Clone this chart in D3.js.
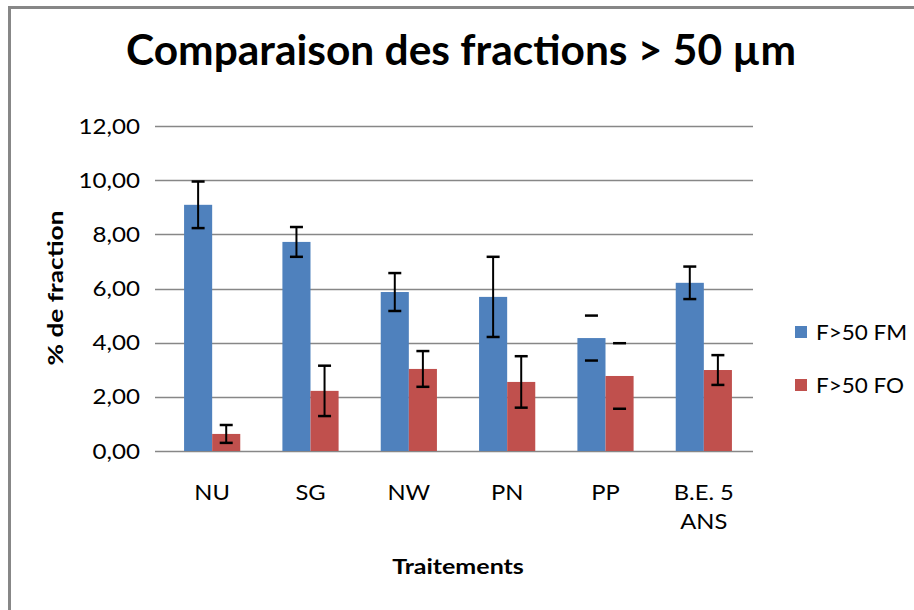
<!DOCTYPE html>
<html lang="fr">
<head>
<meta charset="utf-8">
<title>Comparaison des fractions</title>
<script src="https://cdn.jsdelivr.net/npm/d3@7"></script>
<style>
  body { margin: 0; background: #fff; }
  svg text { font-family: Lato, "Open Sans", sans-serif; fill: #000; }
</style>
</head>
<body>
<svg id="chart" width="914" height="610"></svg>
<script>
// donnees
var categories = ["NU", "SG", "NW", "PN", "PP", "B.E. 5 ANS"];
var seriesNames = ["F>50 FM", "F>50 FO"];
var valFM = [9.09, 7.72, 5.87, 5.69, 4.17, 6.21];
var valFO = [0.63, 2.22, 3.03, 2.55, 2.77, 2.99];
var errFM = [0.86, 0.55, 0.70, 1.48, 0.83, 0.60];
var errFO = [0.33, 0.93, 0.66, 0.95, 1.21, 0.55];
var yTicks = [0, 2, 4, 6, 8, 10, 12];
var capsOnly = ["PP"]; // pas de trait vertical sur ces barres d'erreur
var colors = ["#4F81BD", "#C0504D"];

var svg = d3.select("#chart");

// elargit le texte (la police d'origine est plus large)
function widen(sel, k) {
  sel.each(function() {
    var w = this.getComputedTextLength();
    d3.select(this).attr("textLength", w * k).attr("lengthAdjust", "spacingAndGlyphs");
  });
}

// cadre du graphique (coupe a droite et en bas)
svg.append("rect")
  .attr("x", 9.5).attr("y", 7.5)
  .attr("width", 1000).attr("height", 700)
  .attr("fill", "none")
  .attr("stroke", "#878787")
  .attr("stroke-width", 3);

var plotLeft = 163, plotRight = 753, plotTop = 126, plotBottom = 451;

var x0 = d3.scaleBand().domain(categories).range([plotLeft, plotRight]);
var bandW = x0.bandwidth();
var barW = bandW / 3.5; // gap width 150%
var y = d3.scaleLinear().domain([0, 12]).range([plotBottom, plotTop]);

// quadrillage
svg.append("g").selectAll("line")
  .data(yTicks)
  .join("line")
  .attr("x1", plotLeft - 8).attr("x2", plotRight)
  .attr("y1", function(d) { return Math.round(y(d)) + 0.5; })
  .attr("y2", function(d) { return Math.round(y(d)) + 0.5; })
  .attr("stroke", "#878787")
  .attr("stroke-width", 1.6);

// etiquettes de l'axe Y
var yLab = svg.append("g").selectAll("text")
  .data(yTicks)
  .join("text")
  .attr("x", 140)
  .attr("y", function(d) { return y(d); })
  .attr("dy", "0.36em")
  .attr("text-anchor", "end")
  .style("font-size", "21px")
  .text(function(d) { return d3.format(".2f")(d).replace(".", ","); });
widen(yLab, 1.15);

var data = categories.map(function(c, i) {
  return [
    { cat: c, s: 0, v: valFM[i], e: errFM[i] },
    { cat: c, s: 1, v: valFO[i], e: errFO[i] }
  ];
});

function barX(d) {
  return x0(d.cat) + (bandW - 2 * barW) / 2 + d.s * barW;
}

var groups = svg.append("g").selectAll("g")
  .data(data)
  .join("g");

groups.selectAll("rect")
  .data(function(d) { return d; })
  .join("rect")
  .attr("x", barX)
  .attr("width", barW)
  .attr("y", function(d) { return y(d.v); })
  .attr("height", function(d) { return y(0) - y(d.v); })
  .attr("fill", function(d) { return colors[d.s]; });

// barres d'erreur
var errG = groups.selectAll("g.err")
  .data(function(d) { return d; })
  .join("g")
  .attr("class", "err")
  .attr("stroke", "#000")
  .attr("stroke-width", 2);

errG.filter(function(d) { return capsOnly.indexOf(d.cat) < 0; })
  .append("line")
  .attr("x1", function(d) { return barX(d) + barW / 2; })
  .attr("x2", function(d) { return barX(d) + barW / 2; })
  .attr("y1", function(d) { return y(d.v + d.e); })
  .attr("y2", function(d) { return y(d.v - d.e); });

[1, -1].forEach(function(sign) {
  errG.append("line")
    .attr("x1", function(d) { return barX(d) + barW / 2 - 6.5; })
    .attr("x2", function(d) { return barX(d) + barW / 2 + 6.5; })
    .attr("y1", function(d) { return y(d.v + sign * d.e); })
    .attr("y2", function(d) { return y(d.v + sign * d.e); })
    .attr("stroke-width", 2.5);
});

// etiquettes de l'axe X
var xLab = svg.append("g").selectAll("text")
  .data(categories)
  .join("text")
  .attr("x", function(d) { return x0(d) + bandW / 2; })
  .attr("y", 500)
  .attr("text-anchor", "middle")
  .style("font-size", "21px");
xLab.each(function(d) {
  var t = d3.select(this);
  var parts = d === "B.E. 5 ANS" ? ["B.E. 5", "ANS"] : [d];
  parts.forEach(function(p, i) {
    t.append("tspan")
      .attr("x", x0(d) + bandW / 2)
      .attr("dy", i === 0 ? 0 : 29)
      .text(p);
  });
});
widen(xLab.selectAll("tspan"), 1.13);

// titres des axes
var xTitle = svg.append("text")
  .attr("x", 458).attr("y", 574)
  .attr("text-anchor", "middle")
  .style("font-size", "21px")
  .style("font-weight", "bold")
  .text("Traitements");
widen(xTitle, 1.19);

var yTitle = svg.append("text")
  .attr("transform", "translate(63,288) rotate(-90)")
  .attr("text-anchor", "middle")
  .style("font-size", "21px")
  .style("font-weight", "bold")
  .text("% de fraction");
widen(yTitle, 1.25);

// titre
var title = svg.append("text")
  .attr("x", 461).attr("y", 65)
  .attr("text-anchor", "middle")
  .style("font-size", "40px")
  .style("font-weight", "bold")
  .text("Comparaison des fractions > 50 \u00b5m");
var tw = title.node().getComputedTextLength();
title.style("font-size", (40 * 670 / tw) + "px");

// legende
var legend = svg.append("g").selectAll("g")
  .data(seriesNames)
  .join("g")
  .attr("transform", function(d, i) { return "translate(795," + (332 + i * 53) + ")"; });

legend.append("rect")
  .attr("x", 0).attr("y", -6)
  .attr("width", 12).attr("height", 12)
  .attr("fill", function(d, i) { return colors[i]; });

var legText = legend.append("text")
  .attr("x", 21)
  .attr("dy", "0.36em")
  .style("font-size", "21px")
  .text(function(d) { return d; });
widen(legText, 1.07);
</script>
</body>
</html>
